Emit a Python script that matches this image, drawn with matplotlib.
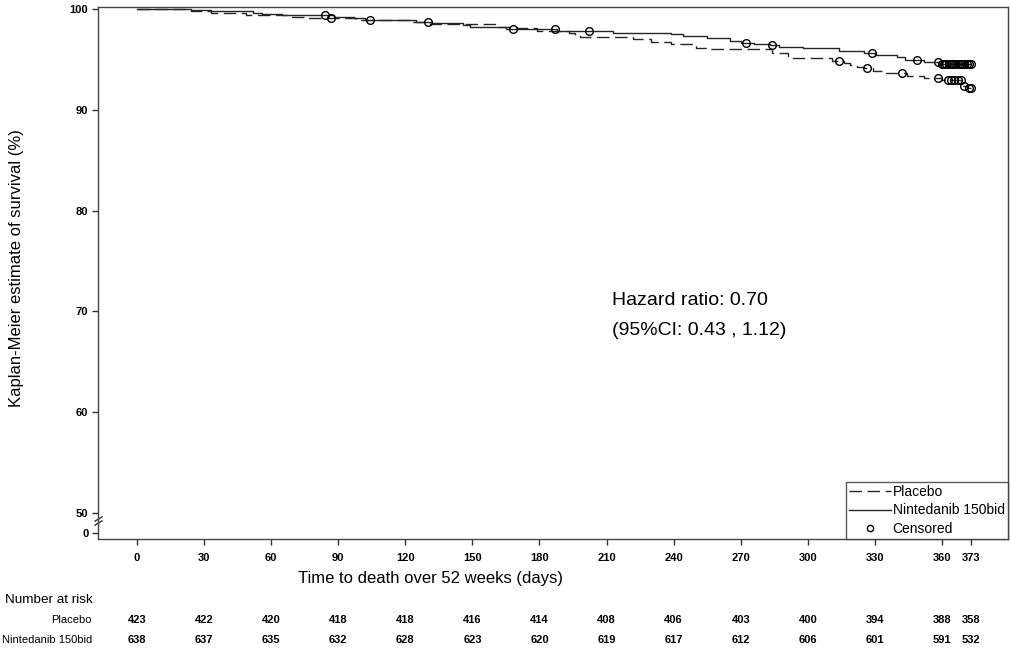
import matplotlib
matplotlib.use('Agg')
import matplotlib.pyplot as plt
import matplotlib.transforms as mtransforms
from matplotlib.lines import Line2D
import numpy as np

plt.rcParams['font.family'] = ['Liberation Sans', 'DejaVu Sans']

# ---------------- data ----------------
placebo_t = [0, 24, 33, 49, 68, 75, 98, 123, 131, 161, 170, 179, 193, 196, 198,
             222, 230, 239, 250, 256, 284, 291, 311, 316, 319, 322, 325, 329,
             335, 344.5, 352, 360, 369, 371.5, 373]
placebo_s = [100, 99.76, 99.57, 99.38, 99.24, 99.08, 98.94, 98.74, 98.55, 98.18,
             98.09, 97.85, 97.62, 97.42, 97.22, 97.0, 96.76, 96.55, 96.18, 96.0,
             95.6, 95.1, 94.87, 94.65, 94.44, 94.28, 94.12, 93.88, 93.68, 93.35,
             93.2, 92.93, 92.4, 92.15, 92.15]
placebo_cens_t = [87, 314, 326.5, 342, 358, 362.5, 364, 365.5, 367, 368.3, 370, 372, 373]
placebo_cens_s = [99.08, 94.87, 94.12, 93.68, 93.2, 92.93, 92.93, 92.93, 92.93,
                  92.93, 92.4, 92.15, 92.15]

nint_t = [0, 24, 33, 52, 56, 65, 88, 97, 102, 125, 132, 146, 149, 165, 188, 213,
          239, 244, 255, 265, 270, 276, 283, 287, 298, 314, 325, 330, 340, 343.5,
          352, 358.7, 373]
nint_s = [100, 99.9, 99.8, 99.63, 99.5, 99.38, 99.24, 99.08, 98.95, 98.74, 98.64,
          98.45, 98.2, 97.98, 97.85, 97.65, 97.52, 97.35, 97.09, 96.86, 96.63,
          96.53, 96.43, 96.26, 96.1, 95.86, 95.66, 95.44, 95.21, 94.94, 94.77,
          94.54, 94.54]
nint_cens_t = [84, 104, 130, 168, 187, 202, 272.4, 284, 328.5, 349, 358,
               360, 361, 362, 363, 364, 365, 366, 367, 368, 369, 370, 371, 372, 373]
nint_cens_s = [99.38, 98.95, 98.74, 97.98, 97.98, 97.85, 96.63, 96.43, 95.66,
               94.94, 94.77] + [94.54] * 14

x_ticks = [0, 30, 60, 90, 120, 150, 180, 210, 240, 270, 300, 330, 360, 373]
y_ticks = [0, 50, 60, 70, 80, 90, 100]
risk_placebo = [423, 422, 420, 418, 418, 416, 414, 408, 406, 403, 400, 394, 388, 358]
risk_nint = [638, 637, 635, 632, 628, 623, 620, 619, 617, 612, 606, 601, 591, 532]

# ---------------- figure ----------------
W, H = 1011, 666
fig = plt.figure(figsize=(W / 100, H / 100), dpi=100)
ax = fig.add_axes([98 / W, 1 - 539 / H, (1008 - 98) / W, (539 - 7) / H])

# broken y-axis: 0..50 compressed into a small band
def fwd(y):
    y = np.asarray(y, dtype=float)
    return np.where(y >= 50, y, 48 + y * 0.04)

def inv(v):
    v = np.asarray(v, dtype=float)
    return np.where(v >= 50, v, (v - 48) / 0.04)

ax.set_yscale('function', functions=(fwd, inv))

lc = '#262626'
ax.step(placebo_t, placebo_s, where='post', color=lc, lw=1.0, dashes=(9, 4))
ax.step(nint_t, nint_s, where='post', color=lc, lw=1.0)
ax.plot(placebo_cens_t, placebo_cens_s, 'o', mfc='none', mec='black', ms=5.5, mew=1.0)
ax.plot(nint_cens_t, nint_cens_s, 'o', mfc='none', mec='black', ms=5.5, mew=1.0)

ax.set_xlim(-17.4, 389.5)
ax.set_ylim(-14.5, 100.2)
ax.set_xticks(x_ticks)
ax.set_yticks(y_ticks)
ax.set_xticklabels([str(v) for v in x_ticks], fontweight='bold')
ax.set_yticklabels([str(v) for v in y_ticks], fontweight='bold')
ax.tick_params(axis='both', direction='out', length=4, width=1, colors='#333333',
               labelsize=8, labelcolor='black')
ax.tick_params(axis='x', pad=6)
ax.tick_params(axis='y', pad=3)
for sp in ax.spines.values():
    sp.set_color('#444444')
    sp.set_linewidth(1.0)

# break marks on the y axis
for dy in (0.0, 0.0075):
    ax.plot([-0.0033, 0.0044], [0.026 + dy, 0.034 + dy], transform=ax.transAxes,
            color='#333333', lw=1.0, clip_on=False)

# labels
fig.text(17 / W, 1 - 268 / H, 'Kaplan-Meier estimate of survival (%)', rotation=90,
         ha='center', va='center', fontsize=12)
fig.text(430 / W, 1 - 579 / H, 'Time to death over 52 weeks (days)',
         ha='center', va='center', fontsize=12)

fig.text(612 / W, 1 - 300 / H, 'Hazard ratio: 0.70', ha='left', va='center', fontsize=14)
fig.text(612 / W, 1 - 331 / H, '(95%CI: 0.43 , 1.12)', ha='left', va='center', fontsize=14)

# legend
handles = [Line2D([], [], color=lc, lw=1.0, dashes=(9, 4)),
           Line2D([], [], color=lc, lw=1.0),
           Line2D([], [], ls='none', marker='o', mfc='none', mec='black', ms=4.5, mew=1.0)]
leg = ax.legend(handles, ['Placebo', 'Nintedanib 150bid', 'Censored'],
                loc='lower right', bbox_to_anchor=(1, 0), borderaxespad=0,
                fontsize=10, frameon=True, fancybox=False, handlelength=3.0,
                handletextpad=0.1, labelspacing=0.3, borderpad=0.25)
leg.get_frame().set_edgecolor('#333333')
leg.get_frame().set_linewidth(1.0)

# number at risk table
trans = mtransforms.blended_transform_factory(ax.transData, fig.transFigure)
fig.text(5 / W, 1 - 600 / H, 'Number at risk', ha='left', va='center', fontsize=9.7)
fig.text(92 / W, 1 - 620 / H, 'Placebo', ha='right', va='center', fontsize=8)
fig.text(92 / W, 1 - 640 / H, 'Nintedanib 150bid', ha='right', va='center', fontsize=8)
for xt, a, b in zip(x_ticks, risk_placebo, risk_nint):
    ax.text(xt, 1 - 620 / H, str(a), transform=trans, ha='center', va='center',
            fontsize=8, fontweight='bold', clip_on=False)
    ax.text(xt, 1 - 640 / H, str(b), transform=trans, ha='center', va='center',
            fontsize=8, fontweight='bold', clip_on=False)

fig.savefig('out.png', dpi=100)
